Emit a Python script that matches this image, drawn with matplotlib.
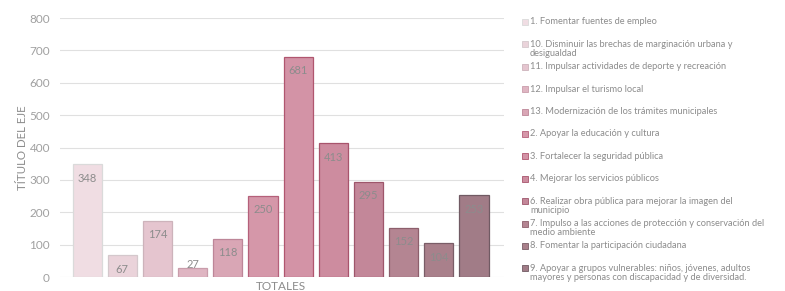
import numpy as np
import matplotlib.pyplot as plt

# legend order matches the bar order (left to right)
labels = [
    '1. Fomentar fuentes de empleo',
    '10. Disminuir las brechas de marginación urbana y\ndesigualdad',
    '11. Impulsar actividades de deporte y recreación',
    '12. Impulsar el turismo local',
    '13. Modernización de los trámites municipales',
    '2. Apoyar la educación y cultura',
    '3. Fortalecer la seguridad pública',
    '4. Mejorar los servicios públicos',
    '6. Realizar obra pública para mejorar la imagen del\nmunicipio',
    '7. Impulso a las acciones de protección y conservación del\nmedio ambiente',
    '8. Fomentar la participación ciudadana',
    '9. Apoyar a grupos vulnerables: niños, jóvenes, adultos\nmayores y personas con discapacidad y de diversidad.',
]
values = [348, 67, 174, 27, 118, 250, 681, 413, 295, 152, 104, 253]
colors = ['#f0dde3', '#ead3da', '#e5c5cf', '#dfb5c2', '#d9a6b5', '#d597a9',
          '#d393a6', '#cd8c9f', '#c38799', '#b48592', '#a9808b', '#a17c87']
edges = ['#dadada', '#d4c8cc', '#cdb3bb', '#c99dab', '#bd8698', '#b5607a',
         '#b0566f', '#a8546c', '#9e566b', '#8d5f6c', '#7a5d67', '#705a63']

plt.rcParams['font.family'] = ['Lato', 'DejaVu Sans']

fig = plt.figure(figsize=(7.85, 2.91), dpi=100)
ax = fig.add_axes([0.076, 0.048, 0.566, 0.89])

x = np.arange(len(values))
bars = ax.bar(x, values, width=0.83, color=colors, edgecolor=edges, linewidth=0.9, zorder=3)

for b, v in zip(bars, values):
    off = -10 if v > 50 else 3
    ax.annotate(str(v), (b.get_x() + b.get_width() / 2, v), xytext=(0, off),
                textcoords='offset points', ha='center', va='center',
                fontsize=8, color='#8c8c8c', zorder=4)

ax.set_ylim(0, 800)
ax.set_xlim(-0.78, 11.85)
ax.set_yticks(np.arange(0, 801, 100))
ax.yaxis.grid(True, color='#e0e0e0', linewidth=0.8, zorder=0)
ax.set_xticks([5.5])
ax.set_xticklabels(['TOTALES'])
ax.tick_params(axis='both', length=0, labelsize=8.5, labelcolor='#a0a0a0')
ax.tick_params(axis='x', pad=3, labelcolor='#8c8c8c')
ax.tick_params(axis='y', pad=7)
for s in ax.spines.values():
    s.set_visible(False)
ax.set_ylabel('TÍTULO DEL EJE', fontsize=8.3, color='#8c8c8c', labelpad=1)

# legend drawn by hand, fixed slot per entry like the original
W, H = 785, 291
for i, (lab, c, e) in enumerate(zip(labels, colors, edges)):
    yc = 22 + i * 22.4
    fig.patches.append(plt.Rectangle((522 / W, 1 - (yc + 3) / H), 6 / W, 6 / H,
                                     transform=fig.transFigure, facecolor=c,
                                     edgecolor=e, linewidth=0.6))
    fig.text(530 / W, 1 - (yc - 4.5) / H, lab, fontsize=6.7, color='#8c8c8c',
             ha='left', va='top', linespacing=1.05)

fig.savefig('out.png', dpi=100)
